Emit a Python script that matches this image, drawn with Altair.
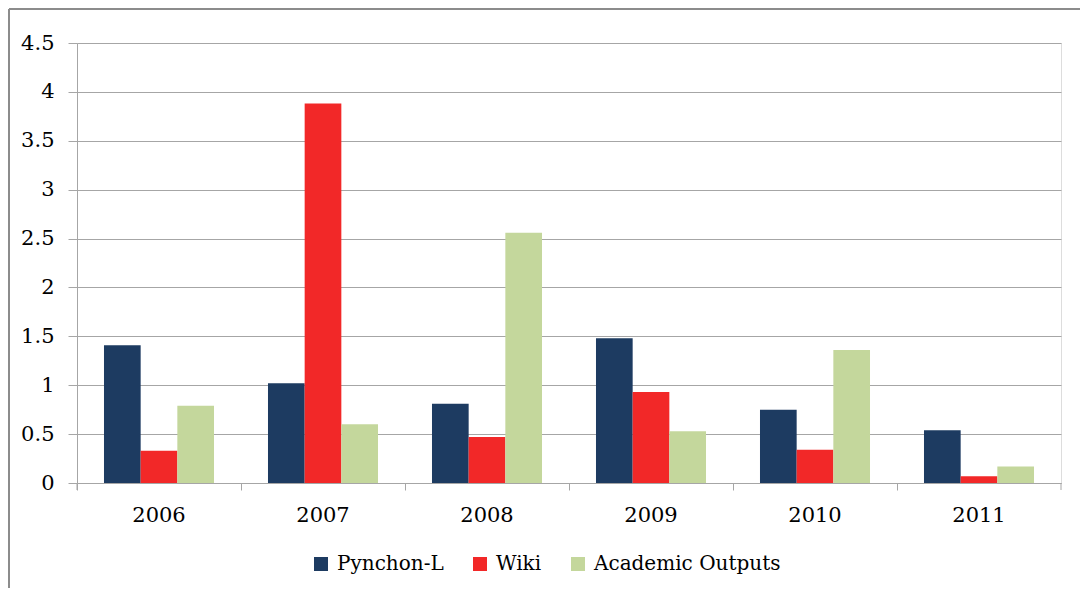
import altair as alt
import pandas as pd

years = ["2006", "2007", "2008", "2009", "2010", "2011"]
series = ["Pynchon-L", "Wiki", "Academic Outputs"]
pynchon = [1.41, 1.02, 0.81, 1.48, 0.75, 0.54]
wiki = [0.33, 3.88, 0.47, 0.93, 0.34, 0.07]
academic = [0.79, 0.60, 2.56, 0.53, 1.36, 0.17]
colors = ["#1D3B61", "#F22828", "#C4D79C"]
y_ticks = [0, 0.5, 1, 1.5, 2, 2.5, 3, 3.5, 4, 4.5]

rows = []
for i, y in enumerate(years):
    for s, vals in zip(series, [pynchon, wiki, academic]):
        rows.append({"year": y, "series": s, "value": vals[i]})
df = pd.DataFrame(rows)

FONT = "DejaVu Serif"
W, H = 984, 440

bars = alt.Chart(df).mark_bar().encode(
    x=alt.X("year:N", sort=years, title=None,
            scale=alt.Scale(paddingInner=0, paddingOuter=0),
            axis=alt.Axis(bandPosition=0, labelAngle=0, tickSize=7,
                          domainColor="#A6A6A6", tickColor="#A6A6A6",
                          labelPadding=14, labelFontSize=21, labelFont=FONT,
                          labelColor="#000000", grid=False)),
    xOffset=alt.XOffset("series:N", sort=series,
                        scale=alt.Scale(paddingInner=0, paddingOuter=0.736)),
    y=alt.Y("value:Q", title=None,
            scale=alt.Scale(domain=[0, 4.5], nice=False),
            axis=alt.Axis(values=y_ticks, format="~g", tickSize=9,
                          domainColor="#A6A6A6", tickColor="#A6A6A6",
                          gridColor="#A6A6A6", grid=True,
                          labelPadding=14, labelFontSize=21, labelFont=FONT,
                          labelColor="#000000")),
    color=alt.Color("series:N", sort=series,
                    scale=alt.Scale(domain=series, range=colors),
                    legend=alt.Legend(title=None, orient="none", direction="horizontal",
                                      legendX=234, legendY=511,
                                      symbolType="square", symbolSize=196,
                                      symbolStrokeWidth=0, symbolOpacity=1,
                                      labelFont=FONT, labelFontSize=20, labelLimit=0,
                                      labelColor="#000000", labelOffset=6,
                                      columnPadding=26)),
)

extra = pd.DataFrame({"k": [0]})
# right-end category tick and axis extension
right_tick = alt.Chart(extra).mark_rule(color="#A6A6A6").encode(
    x=alt.value(W), y=alt.value(H), y2=alt.value(H + 7))
left_ext = alt.Chart(extra).mark_rule(color="#A6A6A6").encode(
    x=alt.value(0), y=alt.value(H), y2=alt.value(H + 7))
# outer frame (top and left edges)
frame_top = alt.Chart(extra).mark_rule(color="#8C8C8C", strokeWidth=2).encode(
    x=alt.value(-68), x2=alt.value(W + 30), y=alt.value(-34))
frame_left = alt.Chart(extra).mark_rule(color="#8C8C8C", strokeWidth=2).encode(
    x=alt.value(-68), y=alt.value(-34), y2=alt.value(H + 120))

chart = alt.layer(bars, right_tick, left_ext, frame_top, frame_left).properties(
    width=W, height=H,
    autosize=alt.AutoSizeParams(type="none"),
    padding={"left": 69, "top": 35, "right": 19, "bottom": 105},
).configure_view(stroke=None).configure(background="white")

chart.save("out.html", embed_options={"renderer": "svg", "actions": False})
